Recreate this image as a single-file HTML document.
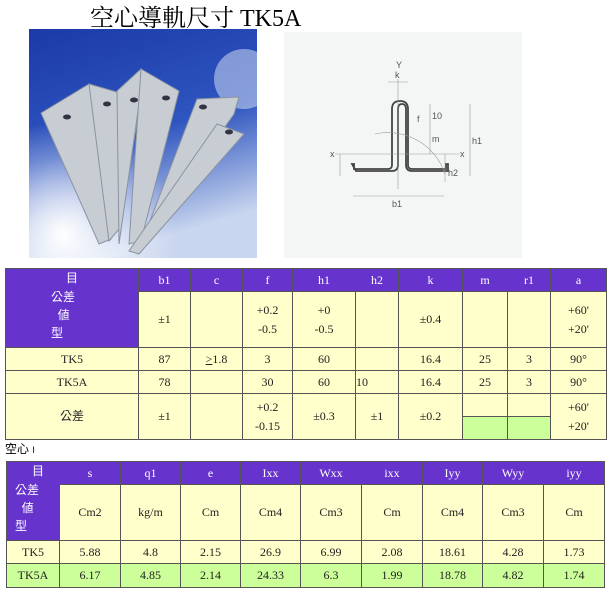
<!DOCTYPE html>
<html><head><meta charset="utf-8"><style>
body{margin:0;width:614px;height:600px;background:#fff;position:relative;overflow:hidden;font-family:"Liberation Serif","Noto Serif CJK SC",serif;}
.t{position:absolute;border-collapse:collapse;font-size:12px;color:#222;table-layout:fixed}
.t td{border:1px solid #555;text-align:center;padding:0;background:#ffffcc;line-height:19px}
.t td.p{background:#6633cc;color:#fff}
.t td.g{background:#ccff99}
.cj{font-family:"Liberation Sans","Noto Sans CJK TC",sans-serif}
</style></head><body>
<div style="position:absolute;left:90px;top:-2px;font-size:24px;white-space:nowrap">空心導軌尺寸 TK5A</div>
<svg style="position:absolute;left:29px;top:29px" width="228" height="229">
<defs><linearGradient id="b" x1="0" y1="0" x2="0.3" y2="1"><stop offset="0" stop-color="#1b3aa8"/><stop offset="0.55" stop-color="#2e55c0"/><stop offset="1" stop-color="#c9d6ef"/></linearGradient>
<radialGradient id="c" cx="0.15" cy="0.9" r="0.5"><stop offset="0" stop-color="#fff"/><stop offset="1" stop-color="#fff" stop-opacity="0"/></radialGradient></defs>
<rect width="228" height="229" fill="url(#b)"/>
<rect width="228" height="229" fill="url(#c)"/>
<ellipse cx="215" cy="50" rx="30" ry="30" fill="#dfe7f7" opacity="0.5"/>
<g fill="#c8cdd4" stroke="#8a93a0" stroke-width="1">
<polygon points="12,84 60,55 66,75 82,210 70,215"/>
<polygon points="60,55 112,70 90,200 80,212"/>
<polygon points="88,62 112,40 110,75 90,215"/>
<polygon points="112,40 150,62 112,212 100,215"/>
<polygon points="168,70 210,68 205,85 110,220"/>
<polygon points="188,95 215,105 110,225 100,222"/>
</g>
<g fill="#334">
<ellipse cx="38" cy="88" rx="4" ry="2.5"/><ellipse cx="78" cy="75" rx="4" ry="2.5"/><ellipse cx="105" cy="71" rx="4" ry="2.5"/><ellipse cx="137" cy="69" rx="4" ry="2.5"/><ellipse cx="174" cy="78" rx="4" ry="2.5"/><ellipse cx="200" cy="103" rx="4" ry="2.5"/>
</g>
</svg>
<svg style="position:absolute;left:284px;top:32px" width="238" height="226">
<rect width="238" height="226" fill="#f4f6f6"/>
<g transform="translate(-4,32)">
<g fill="none" stroke="#444" stroke-width="1.8">
<path d="M72 100 h2 v5 h34 q4 0 4 -4 V45 q0 -8 8 -8 q8 0 8 8 v56 q0 4 4 4 h34 v-5 h2 v7 h-36 q-6 0 -6 -6 V45 q0 -5 -4 -5 q-4 0 -4 5 v56 q0 6 -6 6 h-36 z"/>
</g>
<g stroke="#999" stroke-width="0.6" fill="none">
<line x1="118" y1="15" x2="118" y2="125"/><line x1="55" y1="90" x2="180" y2="90"/>
<line x1="73" y1="132" x2="164" y2="132"/><line x1="190" y1="40" x2="190" y2="112"/>
<line x1="165" y1="90" x2="165" y2="118"/><line x1="60" y1="90" x2="60" y2="112"/>
<line x1="150" y1="40" x2="150" y2="90"/><path d="M95 70 A60 60 0 0 1 165 110"/>
<line x1="108" y1="18" x2="128" y2="18"/>
</g>
<g font-family="Liberation Sans" font-size="9" fill="#555">
<text x="115" y="14">k</text><text x="112" y="143">b1</text><text x="192" y="80">h1</text><text x="168" y="112">h2</text><text x="152" y="78">m</text><text x="152" y="55">10</text><text x="137" y="58">f</text><text x="116" y="4">Y</text><text x="50" y="93">x</text><text x="180" y="93">x</text>
</g>
</g>
</svg>
<table class="t" style="left:5px;top:268px;width:601px">
<col style="width:133px"><col style="width:52px"><col style="width:52px"><col style="width:50px"><col style="width:63px"><col style="width:43px"><col style="width:64px"><col style="width:45px"><col style="width:43px"><col style="width:56px">
<tr style="height:23px"><td class="p cj" rowspan="2" style="vertical-align:top">目<br><div style="text-align:left;padding-left:45px;line-height:18px">公差<br>&nbsp;&nbsp;値<br>型</div></td><td class="p">b1</td><td class="p">c</td><td class="p">f</td><td class="p">h1</td><td class="p">h2</td><td class="p">k</td><td class="p">m</td><td class="p">r1</td><td class="p">a</td></tr>
<tr style="height:56px"><td>±1</td><td></td><td>+0.2<br>-0.5</td><td>+0<br>-0.5</td><td></td><td>±0.4</td><td></td><td></td><td>+60'<br>+20'</td></tr>
<tr style="height:23px"><td>TK5</td><td>87</td><td><u>&gt;</u>1.8</td><td>3</td><td>60</td><td></td><td>16.4</td><td>25</td><td>3</td><td>90°</td></tr>
<tr style="height:23px"><td>TK5A</td><td>78</td><td></td><td>30</td><td>60</td><td style="text-align:left">10</td><td>16.4</td><td>25</td><td>3</td><td>90°</td></tr>
<tr style="height:46px"><td class="cj">公差</td><td>±1</td><td></td><td>+0.2<br>-0.15</td><td>±0.3</td><td>±1</td><td>±0.2</td><td style="vertical-align:bottom"><div style="height:22px;border-top:1px solid #555;background:#ccff99"></div></td><td style="vertical-align:bottom"><div style="height:22px;border-top:1px solid #555;background:#ccff99"></div></td><td>+60'<br>+20'</td></tr>
</table>
<div class="cj" style="position:absolute;left:5px;top:440px;font-size:12px">空心 <span style="font-size:9px">I</span></div>
<table class="t" style="left:6px;top:461px;width:598px">
<col style="width:53px"><col style="width:61px"><col style="width:60px"><col style="width:60px"><col style="width:60px"><col style="width:61px"><col style="width:61px"><col style="width:60px"><col style="width:61px"><col style="width:61px">
<tr style="height:23px"><td class="p cj" rowspan="2" style="vertical-align:top"><div style="line-height:19px">&nbsp;&nbsp;&nbsp;目</div><div style="text-align:left;padding-left:8px;line-height:18px">公差<br>&nbsp;&nbsp;値<br>型</div></td><td class="p">s</td><td class="p">q1</td><td class="p">e</td><td class="p">Ixx</td><td class="p">Wxx</td><td class="p">ixx</td><td class="p">Iyy</td><td class="p">Wyy</td><td class="p">iyy</td></tr>
<tr style="height:56px"><td>Cm2</td><td>kg/m</td><td>Cm</td><td>Cm4</td><td>Cm3</td><td>Cm</td><td>Cm4</td><td>Cm3</td><td>Cm</td></tr>
<tr style="height:23px"><td>TK5</td><td>5.88</td><td>4.8</td><td>2.15</td><td>26.9</td><td>6.99</td><td>2.08</td><td>18.61</td><td>4.28</td><td>1.73</td></tr>
<tr style="height:24px"><td class="g">TK5A</td><td class="g">6.17</td><td class="g">4.85</td><td class="g">2.14</td><td class="g">24.33</td><td class="g">6.3</td><td class="g">1.99</td><td class="g">18.78</td><td class="g">4.82</td><td class="g">1.74</td></tr>
</table>
</body></html>
